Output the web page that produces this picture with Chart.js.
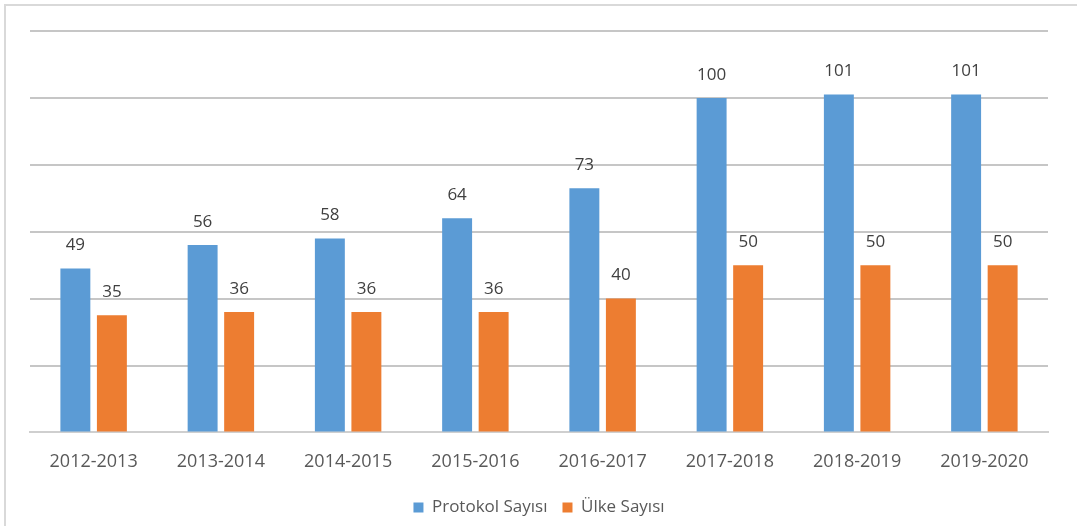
<!DOCTYPE html>
<html>
<head>
<meta charset="utf-8">
<script src="https://cdn.jsdelivr.net/npm/chart.js@4/dist/chart.umd.min.js"></script>
<style>
  html, body { margin: 0; padding: 0; background: #fff; }
  #wrap { position: relative; width: 1079px; height: 526px; }
  #frame { position: absolute; left: 4px; top: 4px; width: 1071px; height: 530px;
           border-left: 2px solid #d9d9d9; border-top: 2px solid #d9d9d9; }
</style>
</head>
<body>
<div id="wrap">
  <div id="frame"></div>
  <canvas id="chart" width="1079" height="526"></canvas>
</div>
<script>
const years = ["2012-2013", "2013-2014", "2014-2015", "2015-2016", "2016-2017", "2017-2018", "2018-2019", "2019-2020"];
const protokolSayisi = [49, 56, 58, 64, 73, 100, 101, 101];
const ulkeSayisi = [35, 36, 36, 36, 40, 50, 50, 50];

const valueLabels = {
    id: "valueLabels",
    afterDatasetsDraw(chart) {
        const ctx = chart.ctx;
        ctx.save();
        ctx.font = "17px 'Open Sans', sans-serif";
        ctx.fillStyle = "#404040";
        ctx.textAlign = "center";
        ctx.textBaseline = "middle";
        chart.data.datasets.forEach((ds, i) => {
            chart.getDatasetMeta(i).data.forEach((bar, j) => {
                ctx.fillText(ds.data[j], bar.x, bar.y - 23);
            });
        });
        ctx.restore();
    }
};

new Chart(document.getElementById("chart"), {
    type: "bar",
    data: {
        labels: years,
        datasets: [{
            label: "Protokol Sayısı",
            data: protokolSayisi,
            backgroundColor: "#5b9bd5",
            categoryPercentage: 0.574,
            barPercentage: 0.82
        }, {
            label: "Ülke Sayısı",
            data: ulkeSayisi,
            backgroundColor: "#ed7d31",
            categoryPercentage: 0.574,
            barPercentage: 0.82
        }]
    },
    options: {
        responsive: false,
        animation: false,
        layout: { padding: { left: 30, right: 31, top: 31, bottom: 0 } },
        plugins: {
            tooltip: { enabled: false },
            legend: {
                position: "bottom",
                labels: {
                    color: "#595959",
                    font: { size: 17, family: "'Open Sans', sans-serif" },
                    boxWidth: 10,
                    boxHeight: 10,
                    padding: 15
                }
            }
        },
        scales: {
            x: {
                grid: { display: false },
                border: { color: "#cfcfcf", width: 2 },
                ticks: {
                    color: "#595959",
                    font: { size: 18, family: "'Open Sans', sans-serif" },
                    padding: 11
                }
            },
            y: {
                min: 0,
                max: 120,
                ticks: { display: false, stepSize: 20 },
                border: { display: false },
                grid: { color: "#c6c6c6", lineWidth: 2, drawTicks: false }
            }
        }
    },
    plugins: [valueLabels]
});
</script>
</body>
</html>
